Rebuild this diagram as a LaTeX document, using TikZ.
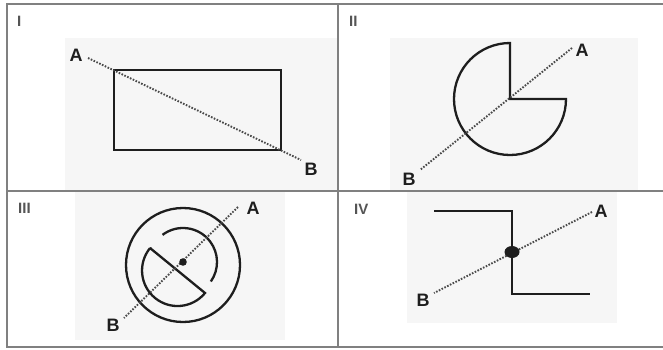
\documentclass[tikz,border=0pt]{standalone}
\usepackage{fontspec}
\setmainfont{Liberation Sans}
\definecolor{framec}{HTML}{808080}
\definecolor{panelbg}{HTML}{F6F6F6}
\definecolor{ink}{HTML}{1E1E1E}
\definecolor{dotc}{HTML}{4A4A4A}
\definecolor{numc}{HTML}{555555}
\begin{document}
\begin{tikzpicture}[x=1pt,y=-1pt,
  frameline/.style={draw=framec,line width=1.8pt},
  figline/.style={draw=ink,line width=2.3pt,line join=miter},
  dotline/.style={draw=dotc,line width=1.9pt,dash pattern=on 1.6pt off 1.5pt},
  lab/.style={font=\fontsize{18}{18}\selectfont\bfseries,text=ink,inner sep=0pt},
  num/.style={font=\fontsize{15}{15}\selectfont\bfseries,text=numc,inner sep=0pt,anchor=west},
  bgpanel/.style={fill=panelbg,draw=none}]
\useasboundingbox (0,0) rectangle (663,349);
\fill[white] (0,0) rectangle (663,349);
% panel backgrounds
\path[bgpanel] (65,38) rectangle (337,190);
\path[bgpanel] (390,38) rectangle (638,190);
\path[bgpanel] (75,192) rectangle (285,340);
\path[bgpanel] (407,192) rectangle (617,323);
% frame
\draw[frameline] (664,4) -- (7,4) -- (7,347) -- (664,347);
\draw[frameline] (338,4) -- (338,347);
\draw[frameline] (7,191) -- (664,191);
% numerals
\node[num] (n1) at (17,21) {I};
\node[num] (n2) at (349,21) {II};
\node[num] (n3) at (18,208) {III};
\node[num] (n4) at (354,209) {IV};
% Panel I
\draw[figline] (114,70) rectangle (281,150);
\node[lab] (A1) at (76,55) {A};
\node[lab] (B1) at (311,169) {B};
\coordinate (a1) at (88,58);
\coordinate (b1) at (301,160);
\draw[dotline] (a1) -- (b1);
% Panel II
\draw[figline] (510,99) -- (566,99) arc[start angle=0,end angle=270,radius=56] -- cycle;
\node[lab] (A2) at (582,50) {A};
\node[lab] (B2) at (409,179) {B};
\coordinate (a2) at (572,48);
\coordinate (b2) at (420,170);
\draw[dotline] (a2) -- (b2);
% Panel III
\draw[figline] (183,265) circle[radius=57];
\draw[figline] (183,262) ++(-127:34) arc[start angle=-127,end angle=35,radius=34];
\draw[figline] (150,248) -- (205,293) arc[start angle=39.3,end angle=219.3,radius=35.5] -- cycle;
\node[lab] (A3) at (253,208) {A};
\node[lab] (B3) at (113,325) {B};
\coordinate (a3) at (238,207);
\coordinate (b3) at (124,318);
\draw[dotline] (a3) -- (b3);
\fill[ink] (183,262) circle[radius=3.8];
% Panel IV
\draw[figline] (434,211) -- (512,211) -- (512,294) -- (590,294);
\node[lab] (A4) at (601,211) {A};
\node[lab] (B4) at (423,300) {B};
\coordinate (a4) at (592,212);
\coordinate (b4) at (434,293);
\draw[dotline] (a4) -- (b4);
\fill[ink] (512,252) ellipse[x radius=7.5,y radius=6];
\end{tikzpicture}
\end{document}
